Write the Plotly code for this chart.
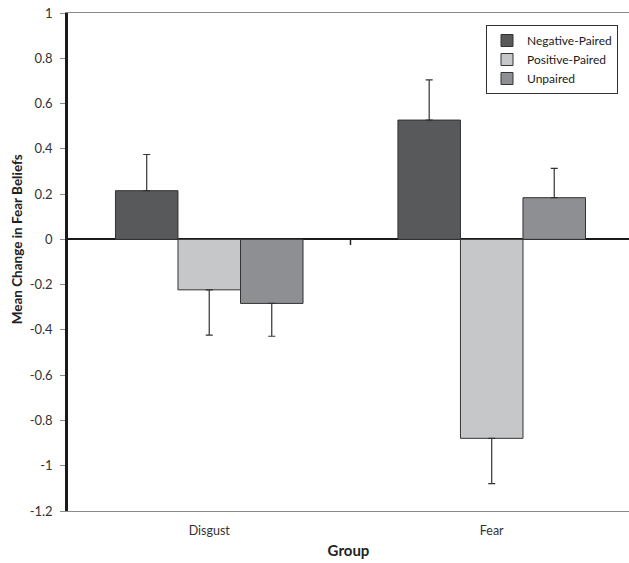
import plotly.graph_objects as go

groups = ["Disgust", "Fear"]
series_names = ["Negative-Paired", "Positive-Paired", "Unpaired"]
neg_paired = [0.215, 0.527]
pos_paired = [-0.223, -0.879]
unpaired = [-0.283, 0.184]
neg_paired_err = [0.16, 0.178]
pos_paired_err = [0.2, 0.2]
unpaired_err = [0.145, 0.13]
colors = ["#58595b", "#c6c7c9", "#8e8f92"]
y_ticks = [1, 0.8, 0.6, 0.4, 0.2, 0, -0.2, -0.4, -0.6, -0.8, -1, -1.2]
y_tick_text = ["1", "0.8", "0.6", "0.4", "0.2", "0", "-0.2", "-0.4", "-0.6", "-0.8", "-1", "-1.2"]

FONT = "Lato"
W, H = 629, 563
L, T, B = 68, 13, 52
PW = W - L
PH = H - T - B

fig = go.Figure()
for name, vals, errs, col in zip(series_names, [neg_paired, pos_paired, unpaired],
                                 [neg_paired_err, pos_paired_err, unpaired_err], colors):
    up = [e if v >= 0 else 0 for v, e in zip(vals, errs)]
    down = [e if v < 0 else 0 for v, e in zip(vals, errs)]
    fig.add_trace(go.Bar(
        x=groups, y=vals, name=name,
        marker=dict(color=col, line=dict(color="#333333", width=1)),
        error_y=dict(type="data", symmetric=False, array=up, arrayminus=down,
                     color="#333333", thickness=1.2, width=3.5),
    ))

# small category-boundary tick on the zero axis
fig.add_shape(type="line", xref="x", yref="y", x0=0.5, x1=0.5, y0=0, y1=-0.025,
              line=dict(color="#222222", width=1.5))

# y-axis title (centred on the zero line, as in the reference)
fig.add_annotation(text="<b>Mean Change in Fear Beliefs</b>", xref="paper", yref="y",
                   x=-(68 - 17) / PW, y=0, xanchor="center", yanchor="middle",
                   textangle=-90, showarrow=False,
                   font=dict(family=FONT, size=13.5, color="#222222"))

fig.update_layout(
    width=W, height=H,
    margin=dict(l=L, r=0, t=T, b=B),
    paper_bgcolor="white", plot_bgcolor="white",
    barmode="group", bargap=0.336, bargroupgap=0,
    font=dict(family=FONT, size=12, color="#404040"),
    showlegend=True,
    legend=dict(x=(618 - 68) / PW, y=1 - (25 - 13) / PH, xanchor="right", yanchor="top",
                bordercolor="#333333", borderwidth=1, bgcolor="white",
                font=dict(family=FONT, size=12, color="#1a1a1a"),
                itemwidth=30, tracegroupgap=0),
    xaxis=dict(range=[-0.5, 1.486], showgrid=False, zeroline=False,
               showline=True, mirror=True, linecolor="#8a8a8a", linewidth=1.2,
               ticks="", ticklabelstandoff=8,
               tickfont=dict(family=FONT, size=12.5, color="#333333"),
               title=dict(text="<b>Group</b>", standoff=8,
                          font=dict(family=FONT, size=15, color="#222222"))),
    yaxis=dict(range=[-1.2, 1], tickvals=y_ticks, ticktext=y_tick_text,
               showgrid=False, zeroline=True, zerolinecolor="#1a1a1a", zerolinewidth=2.2,
               showline=True, linecolor="#1a1a1a", linewidth=2.5,
               ticks="outside", ticklen=5, tickcolor="#8a8a8a", tickwidth=1,
               ticklabelstandoff=5, ticklabeloverflow="allow",
               tickfont=dict(family=FONT, size=13, color="#333333")),
)

fig.write_html("out.html", config={"displayModeBar": False},
               post_script="document.body.style.margin='0';document.body.style.overflow='hidden';")
